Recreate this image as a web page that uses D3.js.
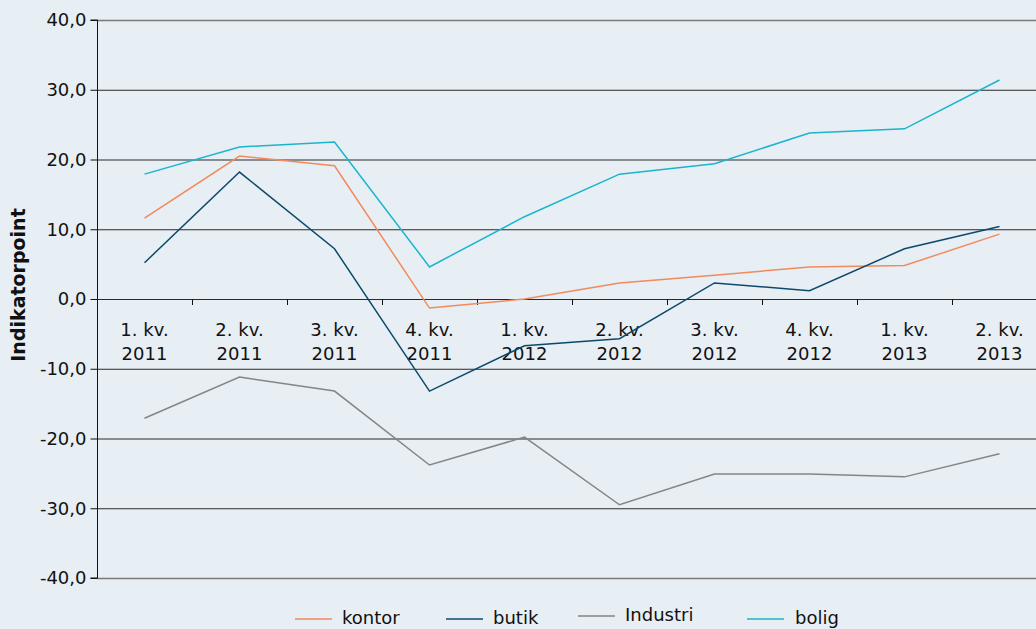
<!DOCTYPE html>
<html>
<head>
<meta charset="utf-8">
<script src="https://cdn.jsdelivr.net/npm/d3@7"></script>
<style>
  body { margin: 0; background: #e7eef4; }
  svg { display: block; }
  text { font-family: "DejaVu Sans", sans-serif; }
</style>
</head>
<body>
<div id="chart"></div>
<script>
const quarters = ["1. kv.", "2. kv.", "3. kv.", "4. kv.", "1. kv.", "2. kv.", "3. kv.", "4. kv.", "1. kv.", "2. kv."];
const years = ["2011", "2011", "2011", "2011", "2012", "2012", "2012", "2012", "2013", "2013"];
const kontor = [11.6, 20.5, 19.1, -1.3, 0.0, 2.3, 3.4, 4.6, 4.8, 9.3];
const butik = [5.2, 18.2, 7.2, -13.2, -6.7, -5.7, 2.3, 1.2, 7.2, 10.4];
const industri = [-17.1, -11.2, -13.2, -23.8, -19.8, -29.5, -25.1, -25.1, -25.5, -22.2];
const bolig = [17.9, 21.8, 22.5, 4.6, 11.8, 17.9, 19.4, 23.8, 24.4, 31.4];
const yTicks = [40, 30, 20, 10, 0, -10, -20, -30, -40];

const series = [
  { name: "kontor", values: kontor, color: "#f28a5e" },
  { name: "butik", values: butik, color: "#0c4a6c" },
  { name: "Industri", values: industri, color: "#858585" },
  { name: "bolig", values: bolig, color: "#1ab5cc" }
];

const w = 1036, h = 629;
const mLeft = 97, mTop = 20, mBottom = 578;

const svg = d3.select("#chart").append("svg")
  .attr("width", w).attr("height", h);

svg.append("rect").attr("width", w).attr("height", h).attr("fill", "#e7eef4");

const x = d3.scaleBand().domain(d3.range(quarters.length)).range([mLeft, mLeft + 95 * quarters.length]);
const y = d3.scaleLinear().domain([-40, 40]).range([mBottom, mTop]);

// grid lines
svg.append("g").selectAll("line")
  .data(yTicks)
  .join("line")
  .attr("x1", mLeft).attr("x2", w)
  .attr("y1", d => y(d) + 0.5).attr("y2", d => y(d) + 0.5)
  .attr("stroke", d => (d === 40 || d === -40) ? "#7a7a7a" : "#2a2a2a")
  .attr("stroke-width", d => (d === 40 || d === -40) ? 1.5 : 1);

// y axis
const yAxis = d3.axisLeft(y).tickValues(yTicks).tickSize(7).tickPadding(4)
  .tickFormat(d => d3.format(".1f")(d).replace(".", ",").replace("−", "-"));
const gy = svg.append("g").attr("transform", `translate(${mLeft + 0.5},0)`).call(yAxis);
gy.select(".domain").attr("stroke", "#111").attr("d", `M-7,${mTop}H0V${mBottom}H-7`);
gy.selectAll(".tick line").attr("stroke", "#111");
gy.selectAll(".tick text").attr("fill", "#111")
  .style("font-size", "18px").style("font-family", "DejaVu Sans");

// x axis ticks at zero line
const xTickPos = d3.range(1, quarters.length).map(i => x(i));
svg.append("g").selectAll("line")
  .data(xTickPos)
  .join("line")
  .attr("x1", d => Math.round(d) + 0.5).attr("x2", d => Math.round(d) + 0.5)
  .attr("y1", y(0)).attr("y2", y(0) + 6)
  .attr("stroke", "#111");

// category labels
const labels = svg.append("g").selectAll("text")
  .data(quarters)
  .join("text")
  .attr("text-anchor", "middle")
  .attr("fill", "#111")
  .style("font-size", "18px");
labels.append("tspan").attr("x", (d, i) => x(i) + x.bandwidth() / 2).attr("y", 336).text(d => d);
labels.append("tspan").attr("x", (d, i) => x(i) + x.bandwidth() / 2).attr("y", 360).text((d, i) => years[i]);

// y title
svg.append("text")
  .attr("transform", `translate(25, 285) rotate(-90)`)
  .attr("text-anchor", "middle")
  .style("font-size", "19px")
  .style("font-weight", "bold")
  .attr("fill", "#111")
  .text("Indikatorpoint");

// lines
const line = d3.line().x((d, i) => x(i) + x.bandwidth() / 2).y(d => y(d));
svg.append("g").selectAll("path")
  .data(series)
  .join("path")
  .attr("d", d => line(d.values))
  .attr("fill", "none")
  .attr("stroke", d => d.color)
  .attr("stroke-width", 1.5);

// legend
const legendPos = [
  { x: 295, ly: 619, ty: 624 },
  { x: 446, ly: 619, ty: 624 },
  { x: 578, ly: 616, ty: 621 },
  { x: 747, ly: 619, ty: 624 }
];
const lg = svg.append("g").selectAll("g")
  .data(series)
  .join("g");
lg.append("line")
  .attr("x1", (d, i) => legendPos[i].x).attr("x2", (d, i) => legendPos[i].x + 37)
  .attr("y1", (d, i) => legendPos[i].ly).attr("y2", (d, i) => legendPos[i].ly)
  .attr("stroke", d => d.color).attr("stroke-width", 1.5);
lg.append("text")
  .attr("x", (d, i) => legendPos[i].x + 47 + (i === 3 ? 1 : 0))
  .attr("y", (d, i) => legendPos[i].ty)
  .attr("fill", "#111")
  .style("font-size", "18px")
  .text(d => d.name);
</script>
</body>
</html>
